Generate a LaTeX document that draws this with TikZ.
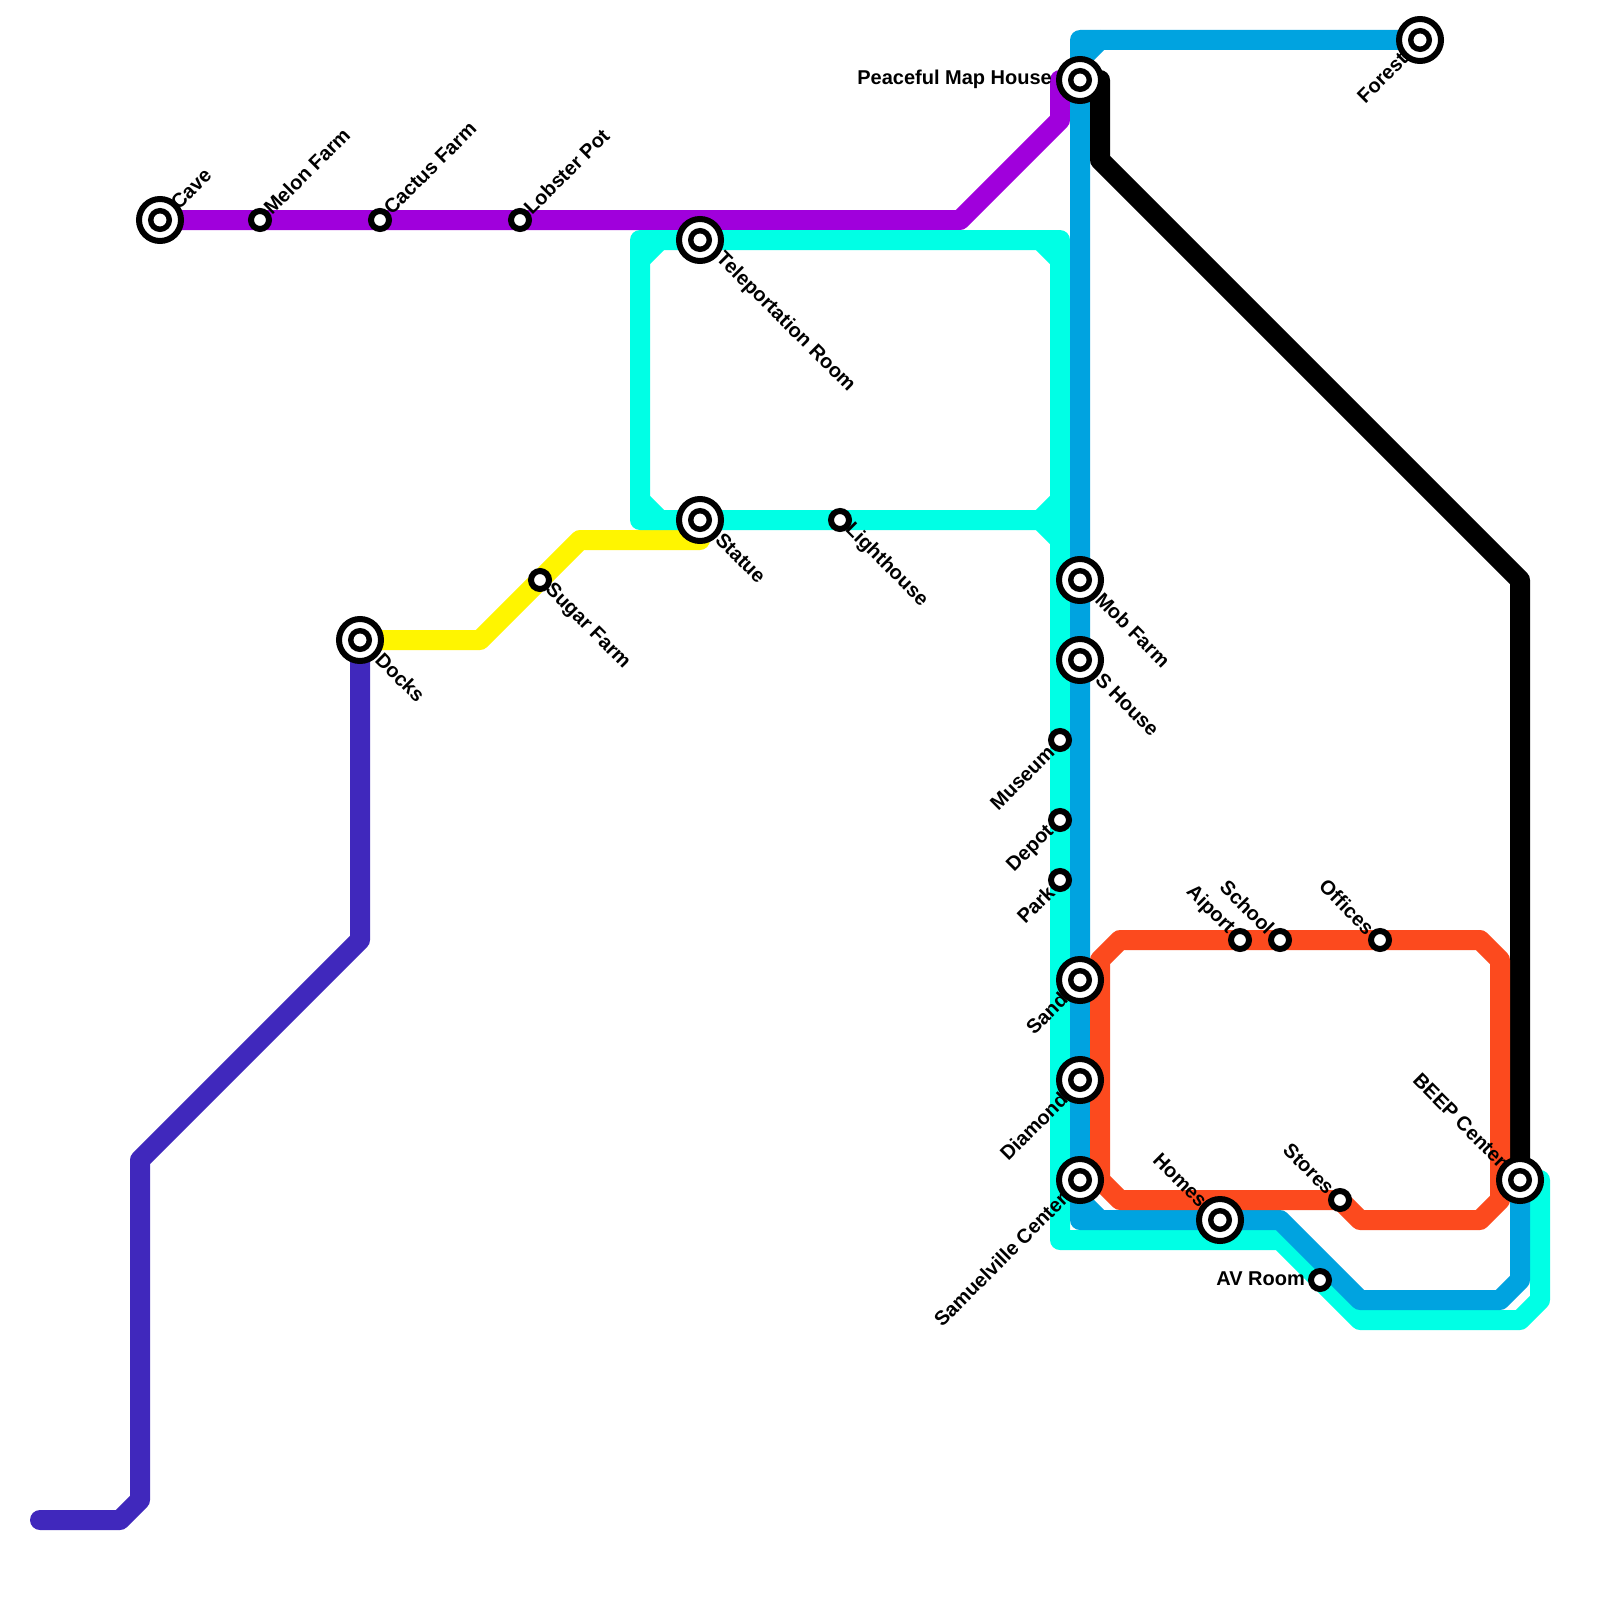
\documentclass[tikz,border=0pt]{standalone}
\usepackage{fontspec}
\setmainfont{Liberation Sans}
\definecolor{lblue}{HTML}{00A3E0}
\definecolor{lcyan}{HTML}{00FFE5}
\definecolor{lpurple}{HTML}{A000DC}
\definecolor{lindigo}{HTML}{4028BC}
\definecolor{lyellow}{HTML}{FFF500}
\definecolor{lorange}{HTML}{FC4A1E}
\tikzset{
  metro/.style={line width=20pt,line cap=round,line join=round},
  bigstation/.style={circle,draw=black,fill=white,line width=6pt,minimum size=42pt,inner sep=0pt,
    path picture={\draw[black,line width=5.4pt] (path picture bounding box.center) circle (9.3pt);}},
  smallstation/.style={circle,draw=black,fill=white,line width=6pt,minimum size=18pt,inner sep=0pt},
  txt/.style={inner sep=0pt,text=black,font=\fontsize{20}{24}\selectfont\bfseries},
  lblE/.style={txt,anchor=east},
  lblNE/.style={txt,rotate=45,anchor=west},
  lblSE/.style={txt,rotate=-45,anchor=west},
  lblSW/.style={txt,rotate=45,anchor=east},
  lblNW/.style={txt,rotate=-45,anchor=east}
}
\begin{document}
\begin{tikzpicture}[x=1pt,y=-1pt]
\useasboundingbox (0,0) rectangle (1600,1600);
\fill[white] (0,0) rectangle (1600,1600);
% station anchors
\coordinate (cavep) at (160,220);
\coordinate (pmhp) at (1080,80);
% corner coordinates
\foreach \n/\x/\y in {
 pa/960/220, pb/1060/120, pc/1060/80,
 ba/1080/40, bb/1100/40, bc/1080/60, bd/1080/1220, be/1080/1200, bf/1100/1220, bg/1280/1220, bh/1360/1300, bi/1500/1300, bj/1520/1280,
 ca/640/240, cb/1060/240, cc/640/520, cd/1060/520, ce/1060/1240, cf/1280/1240, cg/1360/1320, ch/1520/1320, ci/1540/1300, cj/1540/1180,
 ck/640/260, cl/660/240, cm/1040/240, cn/1060/260, co/640/500, cp/660/520, cq/1040/520, cr/1060/500, cs/1060/540,
 ka/1100/80, kb/1100/160, kc/1520/580,
 ia/360/940, ib/140/1160, ic/140/1500, id/120/1520, ie/40/1520,
 ya/480/640, yb/580/540, yc/700/540,
 oa/1120/940, ob/1480/940, oc/1500/960, od/1500/1200, oe/1480/1220, of/1360/1220, og/1340/1200, oh/1120/1200, oi/1100/1180, oj/1100/960}
 {\coordinate (\n) at (\x,\y);}
% stations placed first so that lines can refer to them; repainted on top below
\foreach \n/\x/\y in {cave/160/220, melon/260/220, cactus/380/220, lobster/520/220, tele/700/240, statue/700/520, light/840/520, sugar/540/580, docks/360/640, pmh/1080/80, forest/1420/40, mob/1080/580, shouse/1080/660, museum/1060/740, depot/1060/820, park/1060/880, sand/1080/980, diamond/1080/1080, samuel/1080/1180, homes/1220/1220, aiport/1240/940, school/1280/940, offices/1380/940, stores/1340/1200, avroom/1320/1280, beep/1520/1180}
 {\coordinate (\n p) at (\x,\y);}
% lines
\draw[metro,lpurple] (cavep) -- (pa) -- (pb) -- (pc);
\draw[metro,lindigo] (docksp) -- (ia) -- (ib) -- (ic) -- (id) -- (ie);
\draw[metro,lyellow] (docksp) -- (ya) -- (yb) -- (yc);
\draw[metro,lcyan] (cd) -- (cc) -- (ca) -- (cb) -- (ce) -- (cf) -- (cg) -- (ch) -- (ci) -- (cj);
\draw[metro,lcyan] (ck) -- (cl) (cm) -- (cn) (co) -- (cp) (cq) -- (cr) (cq) -- (cs);
\draw[metro,lblue] (forestp) -- (ba) -- (bd) -- (bg) -- (bh) -- (bi) -- (bj) -- (beepp);
\draw[metro,lblue] (bb) -- (bc) (be) -- (bf);
\draw[metro,black] (ka) -- (kb) -- (kc) -- (beepp);
\draw[metro,lorange] (oa) -- (ob) -- (oc) -- (od) -- (oe) -- (of) -- (og) -- (oh) -- (oi) -- (oj) -- cycle;
% stations
\node[bigstation] (cave) at (cavep) {};
\node[smallstation] (melon) at (melonp) {};
\node[smallstation] (cactus) at (cactusp) {};
\node[smallstation] (lobster) at (lobsterp) {};
\node[bigstation] (tele) at (telep) {};
\node[bigstation] (statue) at (statuep) {};
\node[smallstation] (light) at (lightp) {};
\node[smallstation] (sugar) at (sugarp) {};
\node[bigstation] (docks) at (docksp) {};
\node[bigstation] (pmh) at (pmhp) {};
\node[bigstation] (forest) at (forestp) {};
\node[bigstation] (mob) at (mobp) {};
\node[bigstation] (shouse) at (shousep) {};
\node[smallstation] (museum) at (museump) {};
\node[smallstation] (depot) at (depotp) {};
\node[smallstation] (park) at (parkp) {};
\node[bigstation] (sand) at (sandp) {};
\node[bigstation] (diamond) at (diamondp) {};
\node[bigstation] (samuel) at (samuelp) {};
\node[bigstation] (homes) at (homesp) {};
\node[smallstation] (aiport) at (aiportp) {};
\node[smallstation] (school) at (schoolp) {};
\node[smallstation] (offices) at (officesp) {};
\node[smallstation] (stores) at (storesp) {};
\node[smallstation] (avroom) at (avroomp) {};
\node[bigstation] (beep) at (beepp) {};
% labels
\node[lblNE] (tcave) at ([shift={(14,-14)}]cave.center) {Cave};
\node[lblNE] (tmelon) at ([shift={(7,-9)}]melon.center) {Melon Farm};
\node[lblNE] (tcactus) at ([shift={(7,-9)}]cactus.center) {Cactus Farm};
\node[lblNE] (tlobster) at ([shift={(7,-9)}]lobster.center) {Lobster Pot};
\node[lblSE] (ttele) at ([shift={(19,16)}]tele.center) {Teleportation Room};
\node[lblSE] (tstatue) at ([shift={(19,16)}]statue.center) {Statue};
\node[lblSE] (tlight) at ([shift={(8,7)}]light.center) {Lighthouse};
\node[lblSE] (tsugar) at ([shift={(8,7)}]sugar.center) {Sugar Farm};
\node[lblSE] (tdocks) at ([shift={(19,16)}]docks.center) {Docks};
\node[lblE] (tpmh) at ([shift={(-28,-1)}]pmh.center) {Peaceful Map House};
\node[lblSW] (tforest) at ([shift={(-16,16)}]forest.center) {Forest};
\node[lblSE] (tmob) at ([shift={(19,16)}]mob.center) {Mob Farm};
\node[lblSE] (tshouse) at ([shift={(19,16)}]shouse.center) {S House};
\node[lblSW] (tmuseum) at ([shift={(-9,9)}]museum.center) {Museum};
\node[lblSW] (tdepot) at ([shift={(-9,9)}]depot.center) {Depot};
\node[lblSW] (tpark) at ([shift={(-9,9)}]park.center) {Park};
\node[lblSW] (tsand) at ([shift={(-16,16)}]sand.center) {Sand};
\node[lblSW] (tdiamond) at ([shift={(-16,16)}]diamond.center) {Diamond};
\node[lblSW] (tsamuel) at ([shift={(-16,16)}]samuel.center) {Samuelville Center};
\node[lblNW] (thomes) at ([shift={(-16,-16)}]homes.center) {Homes};
\node[lblNW] (taiport) at ([shift={(-9,-9)}]aiport.center) {Aiport};
\node[lblNW] (tschool) at ([shift={(-9,-9)}]school.center) {School};
\node[lblNW] (toffices) at ([shift={(-9,-9)}]offices.center) {Offices};
\node[lblNW] (tstores) at ([shift={(-9,-9)}]stores.center) {Stores};
\node[lblE] (tav) at ([shift={(-15,-1)}]avroom.center) {AV Room};
\node[lblNW] (tbeep) at ([shift={(-16,-16)}]beep.center) {BEEP Center};
\end{tikzpicture}
\end{document}
